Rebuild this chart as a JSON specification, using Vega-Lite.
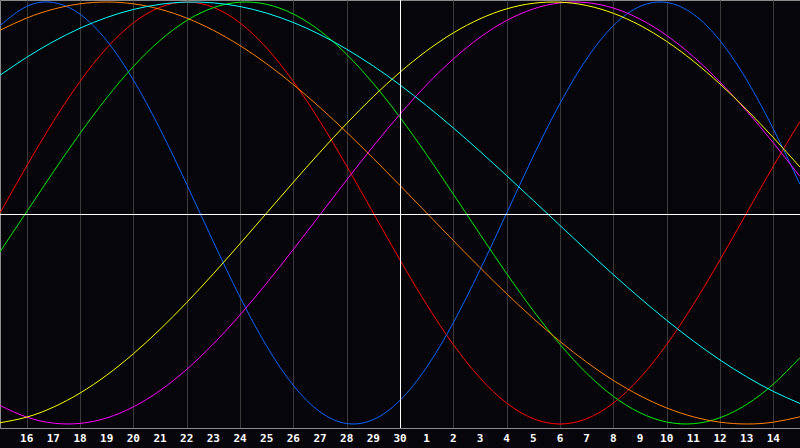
{
"$schema":"https://vega.github.io/schema/vega-lite/v6.json",
"width":800,"height":428,
"autosize":{"type":"none"},
"padding":{"left":0,"top":0,"right":0,"bottom":20},
"background":"#05050a",
"config":{"view":{"stroke":"#8c8c8c","strokeWidth":1}},
"datasets":{"curves":[
{"day":0,"rhythm":"Emotional","value":0},{"day":1,"rhythm":"Emotional","value":0.2225},{"day":2,"rhythm":"Emotional","value":0.4339},{"day":3,"rhythm":"Emotional","value":0.6235},{"day":4,"rhythm":"Emotional","value":0.7818},{"day":5,"rhythm":"Emotional","value":0.901},{"day":6,"rhythm":"Emotional","value":0.9749},{"day":7,"rhythm":"Emotional","value":1},{"day":8,"rhythm":"Emotional","value":0.9749},{"day":9,"rhythm":"Emotional","value":0.901},{"day":10,"rhythm":"Emotional","value":0.7818},{"day":11,"rhythm":"Emotional","value":0.6235},{"day":12,"rhythm":"Emotional","value":0.4339},{"day":13,"rhythm":"Emotional","value":0.2225},{"day":14,"rhythm":"Emotional","value":0},{"day":15,"rhythm":"Emotional","value":-0.2225},{"day":16,"rhythm":"Emotional","value":-0.4339},{"day":17,"rhythm":"Emotional","value":-0.6235},{"day":18,"rhythm":"Emotional","value":-0.7818},{"day":19,"rhythm":"Emotional","value":-0.901},{"day":20,"rhythm":"Emotional","value":-0.9749},{"day":21,"rhythm":"Emotional","value":-1},{"day":22,"rhythm":"Emotional","value":-0.9749},{"day":23,"rhythm":"Emotional","value":-0.901},{"day":24,"rhythm":"Emotional","value":-0.7818},{"day":25,"rhythm":"Emotional","value":-0.6235},{"day":26,"rhythm":"Emotional","value":-0.4339},{"day":27,"rhythm":"Emotional","value":-0.2225},{"day":28,"rhythm":"Emotional","value":0},{"day":29,"rhythm":"Emotional","value":0.2225},{"day":30,"rhythm":"Emotional","value":0.4339},
{"day":0,"rhythm":"Physical","value":0.8879},{"day":1,"rhythm":"Physical","value":0.9791},{"day":2,"rhythm":"Physical","value":0.9977},{"day":3,"rhythm":"Physical","value":0.9423},{"day":4,"rhythm":"Physical","value":0.817},{"day":5,"rhythm":"Physical","value":0.6311},{"day":6,"rhythm":"Physical","value":0.3984},{"day":7,"rhythm":"Physical","value":0.1362},{"day":8,"rhythm":"Physical","value":-0.1362},{"day":9,"rhythm":"Physical","value":-0.3984},{"day":10,"rhythm":"Physical","value":-0.6311},{"day":11,"rhythm":"Physical","value":-0.817},{"day":12,"rhythm":"Physical","value":-0.9423},{"day":13,"rhythm":"Physical","value":-0.9977},{"day":14,"rhythm":"Physical","value":-0.9791},{"day":15,"rhythm":"Physical","value":-0.8879},{"day":16,"rhythm":"Physical","value":-0.7307},{"day":17,"rhythm":"Physical","value":-0.5196},{"day":18,"rhythm":"Physical","value":-0.2698},{"day":19,"rhythm":"Physical","value":0},{"day":20,"rhythm":"Physical","value":0.2698},{"day":21,"rhythm":"Physical","value":0.5196},{"day":22,"rhythm":"Physical","value":0.7307},{"day":23,"rhythm":"Physical","value":0.8879},{"day":24,"rhythm":"Physical","value":0.9791},{"day":25,"rhythm":"Physical","value":0.9977},{"day":26,"rhythm":"Physical","value":0.9423},{"day":27,"rhythm":"Physical","value":0.817},{"day":28,"rhythm":"Physical","value":0.6311},{"day":29,"rhythm":"Physical","value":0.3984},{"day":30,"rhythm":"Physical","value":0.1362},
{"day":0,"rhythm":"Intellectual","value":-0.1837},{"day":1,"rhythm":"Intellectual","value":0.0057},{"day":2,"rhythm":"Intellectual","value":0.1949},{"day":3,"rhythm":"Intellectual","value":0.3769},{"day":4,"rhythm":"Intellectual","value":0.5455},{"day":5,"rhythm":"Intellectual","value":0.6941},{"day":6,"rhythm":"Intellectual","value":0.8178},{"day":7,"rhythm":"Intellectual","value":0.912},{"day":8,"rhythm":"Intellectual","value":0.9731},{"day":9,"rhythm":"Intellectual","value":0.9991},{"day":10,"rhythm":"Intellectual","value":0.989},{"day":11,"rhythm":"Intellectual","value":0.9431},{"day":12,"rhythm":"Intellectual","value":0.8632},{"day":13,"rhythm":"Intellectual","value":0.752},{"day":14,"rhythm":"Intellectual","value":0.6136},{"day":15,"rhythm":"Intellectual","value":0.4532},{"day":16,"rhythm":"Intellectual","value":0.2763},{"day":17,"rhythm":"Intellectual","value":0.0894},{"day":18,"rhythm":"Intellectual","value":-0.1007},{"day":19,"rhythm":"Intellectual","value":-0.2872},{"day":20,"rhythm":"Intellectual","value":-0.4633},{"day":21,"rhythm":"Intellectual","value":-0.6227},{"day":22,"rhythm":"Intellectual","value":-0.7596},{"day":23,"rhythm":"Intellectual","value":-0.8689},{"day":24,"rhythm":"Intellectual","value":-0.9468},{"day":25,"rhythm":"Intellectual","value":-0.9906},{"day":26,"rhythm":"Intellectual","value":-0.9986},{"day":27,"rhythm":"Intellectual","value":-0.9705},{"day":28,"rhythm":"Intellectual","value":-0.9072},{"day":29,"rhythm":"Intellectual","value":-0.8111},{"day":30,"rhythm":"Intellectual","value":-0.6858},
{"day":0,"rhythm":"Intuitive","value":-0.9124},{"day":1,"rhythm":"Intuitive","value":-0.9673},{"day":2,"rhythm":"Intuitive","value":-0.9959},{"day":3,"rhythm":"Intuitive","value":-0.9972},{"day":4,"rhythm":"Intuitive","value":-0.9714},{"day":5,"rhythm":"Intuitive","value":-0.919},{"day":6,"rhythm":"Intuitive","value":-0.8416},{"day":7,"rhythm":"Intuitive","value":-0.7412},{"day":8,"rhythm":"Intuitive","value":-0.6207},{"day":9,"rhythm":"Intuitive","value":-0.4832},{"day":10,"rhythm":"Intuitive","value":-0.3325},{"day":11,"rhythm":"Intuitive","value":-0.1727},{"day":12,"rhythm":"Intuitive","value":-0.0083},{"day":13,"rhythm":"Intuitive","value":0.1564},{"day":14,"rhythm":"Intuitive","value":0.3169},{"day":15,"rhythm":"Intuitive","value":0.4686},{"day":16,"rhythm":"Intuitive","value":0.6077},{"day":17,"rhythm":"Intuitive","value":0.73},{"day":18,"rhythm":"Intuitive","value":0.8326},{"day":19,"rhythm":"Intuitive","value":0.9124},{"day":20,"rhythm":"Intuitive","value":0.9673},{"day":21,"rhythm":"Intuitive","value":0.9959},{"day":22,"rhythm":"Intuitive","value":0.9972},{"day":23,"rhythm":"Intuitive","value":0.9714},{"day":24,"rhythm":"Intuitive","value":0.919},{"day":25,"rhythm":"Intuitive","value":0.8416},{"day":26,"rhythm":"Intuitive","value":0.7412},{"day":27,"rhythm":"Intuitive","value":0.6207},{"day":28,"rhythm":"Intuitive","value":0.4832},{"day":29,"rhythm":"Intuitive","value":0.3325},{"day":30,"rhythm":"Intuitive","value":0.1727},
{"day":0,"rhythm":"Aesthetic","value":-0.994},{"day":1,"rhythm":"Aesthetic","value":-0.9675},{"day":2,"rhythm":"Aesthetic","value":-0.9203},{"day":3,"rhythm":"Aesthetic","value":-0.8536},{"day":4,"rhythm":"Aesthetic","value":-0.7686},{"day":5,"rhythm":"Aesthetic","value":-0.6673},{"day":6,"rhythm":"Aesthetic","value":-0.5517},{"day":7,"rhythm":"Aesthetic","value":-0.4244},{"day":8,"rhythm":"Aesthetic","value":-0.2881},{"day":9,"rhythm":"Aesthetic","value":-0.1456},{"day":10,"rhythm":"Aesthetic","value":0},{"day":11,"rhythm":"Aesthetic","value":0.1456},{"day":12,"rhythm":"Aesthetic","value":0.2881},{"day":13,"rhythm":"Aesthetic","value":0.4244},{"day":14,"rhythm":"Aesthetic","value":0.5517},{"day":15,"rhythm":"Aesthetic","value":0.6673},{"day":16,"rhythm":"Aesthetic","value":0.7686},{"day":17,"rhythm":"Aesthetic","value":0.8536},{"day":18,"rhythm":"Aesthetic","value":0.9203},{"day":19,"rhythm":"Aesthetic","value":0.9675},{"day":20,"rhythm":"Aesthetic","value":0.994},{"day":21,"rhythm":"Aesthetic","value":0.9993},{"day":22,"rhythm":"Aesthetic","value":0.9834},{"day":23,"rhythm":"Aesthetic","value":0.9465},{"day":24,"rhythm":"Aesthetic","value":0.8894},{"day":25,"rhythm":"Aesthetic","value":0.8133},{"day":26,"rhythm":"Aesthetic","value":0.72},{"day":27,"rhythm":"Aesthetic","value":0.6113},{"day":28,"rhythm":"Aesthetic","value":0.4894},{"day":29,"rhythm":"Aesthetic","value":0.3572},{"day":30,"rhythm":"Aesthetic","value":0.2175},
{"day":0,"rhythm":"Awareness","value":0.866},{"day":1,"rhythm":"Awareness","value":0.9239},{"day":2,"rhythm":"Awareness","value":0.9659},{"day":3,"rhythm":"Awareness","value":0.9914},{"day":4,"rhythm":"Awareness","value":1},{"day":5,"rhythm":"Awareness","value":0.9914},{"day":6,"rhythm":"Awareness","value":0.9659},{"day":7,"rhythm":"Awareness","value":0.9239},{"day":8,"rhythm":"Awareness","value":0.866},{"day":9,"rhythm":"Awareness","value":0.7934},{"day":10,"rhythm":"Awareness","value":0.7071},{"day":11,"rhythm":"Awareness","value":0.6088},{"day":12,"rhythm":"Awareness","value":0.5},{"day":13,"rhythm":"Awareness","value":0.3827},{"day":14,"rhythm":"Awareness","value":0.2588},{"day":15,"rhythm":"Awareness","value":0.1305},{"day":16,"rhythm":"Awareness","value":0},{"day":17,"rhythm":"Awareness","value":-0.1305},{"day":18,"rhythm":"Awareness","value":-0.2588},{"day":19,"rhythm":"Awareness","value":-0.3827},{"day":20,"rhythm":"Awareness","value":-0.5},{"day":21,"rhythm":"Awareness","value":-0.6088},{"day":22,"rhythm":"Awareness","value":-0.7071},{"day":23,"rhythm":"Awareness","value":-0.7934},{"day":24,"rhythm":"Awareness","value":-0.866},{"day":25,"rhythm":"Awareness","value":-0.9239},{"day":26,"rhythm":"Awareness","value":-0.9659},{"day":27,"rhythm":"Awareness","value":-0.9914},{"day":28,"rhythm":"Awareness","value":-1},{"day":29,"rhythm":"Awareness","value":-0.9914},{"day":30,"rhythm":"Awareness","value":-0.9659},
{"day":0,"rhythm":"Spiritual","value":0.653},{"day":1,"rhythm":"Spiritual","value":0.7378},{"day":2,"rhythm":"Spiritual","value":0.8124},{"day":3,"rhythm":"Spiritual","value":0.8758},{"day":4,"rhythm":"Spiritual","value":0.9267},{"day":5,"rhythm":"Spiritual","value":0.9646},{"day":6,"rhythm":"Spiritual","value":0.989},{"day":7,"rhythm":"Spiritual","value":0.9996},{"day":8,"rhythm":"Spiritual","value":0.996},{"day":9,"rhythm":"Spiritual","value":0.9786},{"day":10,"rhythm":"Spiritual","value":0.9473},{"day":11,"rhythm":"Spiritual","value":0.9028},{"day":12,"rhythm":"Spiritual","value":0.8457},{"day":13,"rhythm":"Spiritual","value":0.7764},{"day":14,"rhythm":"Spiritual","value":0.6965},{"day":15,"rhythm":"Spiritual","value":0.6068},{"day":16,"rhythm":"Spiritual","value":0.5084},{"day":17,"rhythm":"Spiritual","value":0.4031},{"day":18,"rhythm":"Spiritual","value":0.2921},{"day":19,"rhythm":"Spiritual","value":0.1769},{"day":20,"rhythm":"Spiritual","value":0.0592},{"day":21,"rhythm":"Spiritual","value":-0.0592},{"day":22,"rhythm":"Spiritual","value":-0.1769},{"day":23,"rhythm":"Spiritual","value":-0.2921},{"day":24,"rhythm":"Spiritual","value":-0.4031},{"day":25,"rhythm":"Spiritual","value":-0.5084},{"day":26,"rhythm":"Spiritual","value":-0.6068},{"day":27,"rhythm":"Spiritual","value":-0.6965},{"day":28,"rhythm":"Spiritual","value":-0.7764},{"day":29,"rhythm":"Spiritual","value":-0.8457},{"day":30,"rhythm":"Spiritual","value":-0.9028}
],
"labels":[
{"day":1,"label":"16"},{"day":2,"label":"17"},{"day":3,"label":"18"},{"day":4,"label":"19"},{"day":5,"label":"20"},{"day":6,"label":"21"},{"day":7,"label":"22"},{"day":8,"label":"23"},{"day":9,"label":"24"},{"day":10,"label":"25"},{"day":11,"label":"26"},{"day":12,"label":"27"},{"day":13,"label":"28"},{"day":14,"label":"29"},{"day":15,"label":"30"},{"day":16,"label":"1"},{"day":17,"label":"2"},{"day":18,"label":"3"},{"day":19,"label":"4"},{"day":20,"label":"5"},{"day":21,"label":"6"},{"day":22,"label":"7"},{"day":23,"label":"8"},{"day":24,"label":"9"},{"day":25,"label":"10"},{"day":26,"label":"11"},{"day":27,"label":"12"},{"day":28,"label":"13"},{"day":29,"label":"14"}
],
"marks":[{"value":0}]},
"layer":[
{"data":{"name":"curves"},
 "mark":{"type":"line","interpolate":"natural","strokeWidth":1},
 "encoding":{
  "x":{"field":"day","type":"quantitative","scale":{"domain":[0,30],"nice":false,"zero":false},
       "axis":{"values":[1,2,3,4,5,6,7,8,9,10,11,12,13,14,15,16,17,18,19,20,21,22,23,24,25,26,27,28,29],
               "title":null,"grid":true,"gridColor":"#3a3a3a","gridWidth":1,"ticks":false,"labels":false,
               "domain":true,"domainColor":"#8c8c8c","domainWidth":1}},
  "y":{"field":"value","type":"quantitative","scale":{"domain":[-1.019,1.0095],"nice":false,"zero":false},"axis":null},
  "color":{"field":"rhythm","type":"nominal",
   "scale":{"domain":["Physical","Emotional","Intellectual","Intuitive","Aesthetic","Awareness","Spiritual"],
            "range":["#0a64ff","#ff0000","#00ee00","#ff00ff","#ffff00","#ff8000","#00ffff"]},
   "legend":null}}},
{"data":{"name":"marks"},"mark":{"type":"rule","color":"#ffffff","strokeWidth":1,"yOffset":1.5},
 "encoding":{"y":{"datum":0,"type":"quantitative"}}},
{"data":{"name":"marks"},"mark":{"type":"rule","color":"#ffffff","strokeWidth":1,"xOffset":0.5},
 "encoding":{"x":{"datum":15,"type":"quantitative"}}},
{"data":{"name":"labels"},
 "mark":{"type":"text","color":"#ffffff","font":"DejaVu Sans Mono","fontWeight":"bold","fontSize":11,"baseline":"middle","align":"center","dy":11},
 "encoding":{"x":{"field":"day","type":"quantitative"},"y":{"datum":-1.019,"type":"quantitative"},"text":{"field":"label"}}}
]
}
